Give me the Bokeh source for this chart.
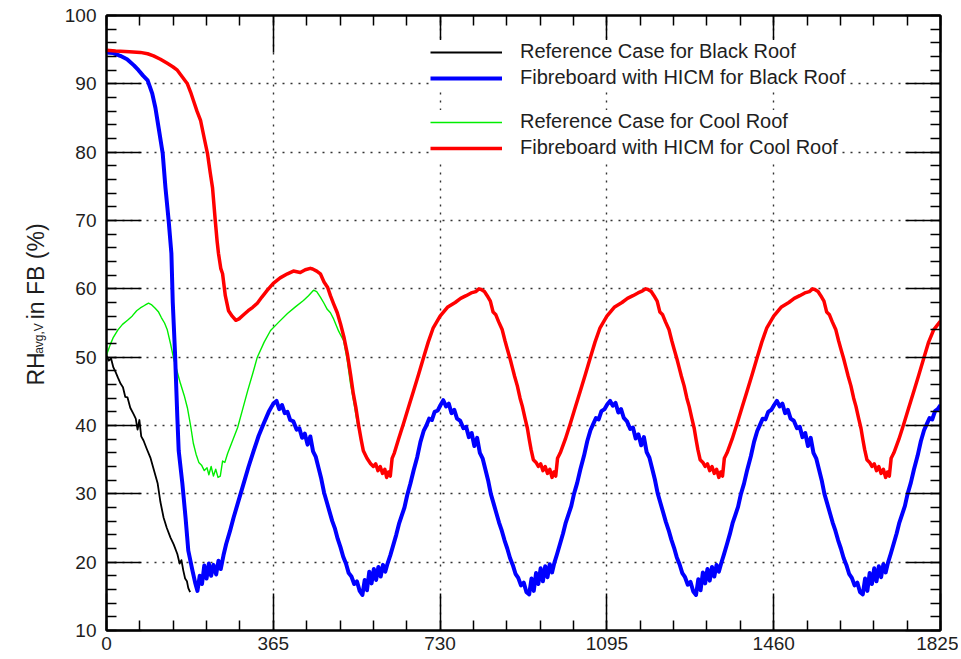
from math import pi
from bokeh.plotting import figure
from bokeh.layouts import row
from bokeh.models import (FixedTicker, LinearAxis, Legend, LegendItem, Range1d)
from bokeh.core.properties import value
from bokeh.embed import file_html
from bokeh.resources import INLINE

# ---------------- data ----------------
x_ticks = [0, 365, 730, 1095, 1460, 1825]
x_minor = [73 * k for k in range(26)]
y_ticks = [10, 20, 30, 40, 50, 60, 70, 80, 90, 100]
y_minor = list(range(10, 101, 2))

black_days = [0, 5, 10, 15, 20, 25, 31, 36, 41, 46, 52, 59, 64, 68, 72, 76, 81,
              88, 96, 104, 112, 118, 125, 132, 140, 147, 155, 160, 164, 168,
              172, 176, 179, 183]
black_vals = [50.2, 49.5, 49.8, 48.5, 47.8, 47.0, 46.1, 45.6, 44.2, 44.1, 42.6,
              41.7, 41.0, 39.4, 40.8, 38.4, 37.8, 36.6, 35.3, 33.4, 31.5, 28.8,
              26.5, 25.0, 23.6, 22.6, 21.2, 19.8, 20.3, 18.8, 17.6, 17.2, 16.2,
              15.6]

green_days = [0, 8, 15, 25, 35, 46, 56, 66, 74, 84, 92, 98, 106, 114, 120, 127,
              133, 140, 147, 155, 162, 170, 177, 184, 190, 196, 202, 208, 214,
              220, 224, 229, 234, 239, 244, 249, 254, 259, 265, 276, 287, 298,
              309, 320, 330, 345, 359, 378, 396, 414, 431, 442, 453, 460, 468,
              475, 483, 490, 497, 508, 519, 527, 534, 541, 549, 555]
green_vals = [50.3, 51.8, 52.9, 54.0, 54.8, 55.4, 56.0, 56.8, 57.2, 57.6, 57.9,
              57.7, 57.2, 56.6, 55.8, 55.0, 54.0, 52.0, 49.8, 47.8, 46.1, 44.4,
              42.6, 40.0, 37.4, 35.8, 34.6, 34.2, 33.4, 33.8, 32.8, 34.0, 32.6,
              33.6, 32.4, 32.6, 34.8, 34.6, 35.9, 37.8, 39.7, 42.4, 45.1, 47.6,
              50.0, 52.2, 53.9, 55.2, 56.4, 57.4, 58.3, 59.0, 59.8, 59.6, 58.8,
              58.0, 57.0, 56.5, 55.6, 53.8, 52.4, 49.5, 46.1, 43.5, 40.3, 38.6]

blue_days_y1 = [0, 15, 30, 45, 60, 70, 80, 90, 100, 107, 114, 123, 129, 136,
                142, 145, 150, 155, 158, 166, 173, 179, 188, 194, 199, 204, 209,
                214, 219, 224, 229, 234, 240, 245, 250, 256, 262, 270, 278, 289,
                300, 311, 322, 333, 344, 355, 365]
blue_vals_y1 = [94.6, 94.5, 94.1, 93.6, 92.7, 92.0, 91.2, 90.5, 88.6, 86.5,
                83.6, 79.8, 74.8, 70.0, 65.2, 58.0, 50.5, 41.2, 36.3, 31.5,
                26.5, 21.7, 18.8, 17.0, 15.8, 18.0, 16.8, 19.5, 17.6, 19.8,
                18.0, 19.6, 18.2, 20.2, 19.0, 21.0, 22.7, 24.5, 26.5, 29.0,
                31.5, 34.0, 36.3, 38.5, 40.3, 42.0, 43.2]
blue_days_y2 = [372, 378, 384, 390, 396, 402, 409, 416, 422, 428, 434, 440, 446,
                452, 458, 464, 470, 476, 482, 488, 494, 500, 506, 512, 518, 524,
                530, 536, 542, 548, 554, 560, 565, 570, 575, 580, 585, 590, 595,
                600, 605, 610, 615, 621, 628, 634, 640, 646, 652, 658, 665, 672,
                680, 687, 694, 700, 706, 712, 718, 725, 731, 737]
blue_vals_y2 = [43.6, 42.4, 43.0, 41.8, 42.0, 40.8, 40.6, 39.4, 39.6, 38.2, 38.8,
                37.2, 38.4, 36.2, 35.4, 33.8, 32.2, 30.2, 28.8, 27.4, 26.0, 24.9,
                23.4, 22.2, 20.8, 19.8, 18.4, 17.9, 16.8, 17.2, 15.8, 15.2, 17.4,
                15.9, 18.6, 16.9, 19.0, 17.4, 19.3, 17.9, 19.6, 18.6, 19.8, 21.0,
                22.6, 24.0, 25.6, 26.8, 28.0, 29.8, 31.5, 33.4, 35.4, 37.6, 39.2,
                40.0, 41.0, 40.8, 42.0, 42.2, 43.0, 43.7]
blue_days_y3 = [743, 749, 755, 761, 767, 774, 781, 787, 793, 799, 805, 811, 817,
                823, 829, 835, 841, 847, 853, 859, 865, 871, 877, 883, 889, 895,
                901, 907, 913, 919, 925, 930, 935, 940, 945, 950, 955, 960, 965,
                970, 975, 980, 986, 993, 999, 1005, 1011, 1017, 1023, 1030, 1037,
                1045, 1052, 1059, 1065, 1071, 1077, 1083, 1090, 1096, 1102]
blue_vals_y3 = [42.8, 43.2, 41.8, 42.3, 41.0, 40.7, 39.6, 39.8, 38.3, 38.9, 37.0,
                38.2, 36.0, 35.2, 33.6, 32.0, 30.0, 28.6, 27.2, 25.8, 24.6, 23.2,
                22.0, 20.6, 19.6, 18.3, 17.7, 16.6, 17.0, 15.6, 15.3, 17.6, 15.8,
                18.4, 16.8, 19.1, 17.2, 19.4, 17.8, 19.7, 18.5, 19.9, 21.2, 22.8,
                24.2, 25.8, 27.0, 28.2, 30.0, 31.6, 33.6, 35.6, 37.7, 39.3, 40.2,
                41.1, 40.9, 42.1, 42.4, 43.1, 43.6]
blue_days_y4 = [1108, 1114, 1120, 1126, 1132, 1139, 1146, 1152, 1158, 1164,
                1170, 1176, 1182, 1188, 1194, 1200, 1206, 1212, 1218, 1224,
                1230, 1236, 1242, 1248, 1254, 1260, 1266, 1272, 1278, 1284,
                1290, 1295, 1300, 1305, 1310, 1315, 1320, 1325, 1330, 1335,
                1340, 1345, 1351, 1358, 1364, 1370, 1376, 1382, 1388, 1395,
                1402, 1410, 1417, 1424, 1430, 1436, 1442, 1448, 1455, 1461, 1467]
blue_vals_y4 = [42.9, 43.3, 41.9, 42.4, 41.1, 40.6, 39.5, 39.7, 38.1, 38.7, 37.1,
                38.3, 36.1, 35.3, 33.7, 32.1, 30.1, 28.7, 27.3, 25.9, 24.7, 23.3,
                22.1, 20.7, 19.7, 18.4, 17.8, 16.7, 17.1, 15.7, 15.2, 17.5, 15.9,
                18.5, 16.9, 19.0, 17.3, 19.3, 17.9, 19.6, 18.6, 19.8, 21.1, 22.7,
                24.1, 25.7, 26.9, 28.1, 29.9, 31.5, 33.5, 35.5, 37.6, 39.2, 40.1,
                41.0, 40.9, 42.0, 42.3, 43.0, 43.6]
blue_days_y5 = [1473, 1479, 1485, 1491, 1497, 1504, 1511, 1517, 1523, 1529,
                1535, 1541, 1547, 1553, 1559, 1565, 1571, 1577, 1583, 1589,
                1595, 1601, 1607, 1613, 1619, 1625, 1631, 1637, 1643, 1649,
                1655, 1660, 1665, 1670, 1675, 1680, 1685, 1690, 1695, 1700,
                1705, 1710, 1716, 1723, 1729, 1735, 1741, 1747, 1753, 1760,
                1767, 1775, 1782, 1789, 1795, 1801, 1807, 1813, 1819, 1825]
blue_vals_y5 = [42.8, 43.2, 41.8, 42.3, 41.0, 40.7, 39.6, 39.8, 38.3, 38.9, 37.0,
                38.2, 36.0, 35.2, 33.6, 32.0, 30.0, 28.6, 27.2, 25.8, 24.6, 23.2,
                22.0, 20.6, 19.6, 18.3, 17.7, 16.6, 17.0, 15.6, 15.3, 17.6, 15.8,
                18.4, 16.8, 19.1, 17.2, 19.4, 17.8, 19.7, 18.5, 19.9, 21.2, 22.8,
                24.2, 25.8, 27.0, 28.2, 30.0, 31.6, 33.6, 35.6, 37.7, 39.3, 40.2,
                41.1, 40.9, 42.1, 42.4, 43.0]

red_days_y1 = [0, 20, 50, 74, 90, 103, 118, 133, 145, 155, 166, 177, 184, 190,
               198, 206, 214, 221, 227, 232, 238, 242, 245, 250, 254, 260, 267,
               275, 283, 290, 300, 310, 320, 330, 340, 352, 365, 380, 396, 409,
               424, 435, 446, 451, 460, 468, 476, 484, 490, 497, 505, 512, 520,
               527, 534, 540, 546, 551, 557, 562, 570, 578, 584, 589, 594, 599,
               604, 609, 613, 617, 621, 625]
red_vals_y1 = [94.9, 94.8, 94.7, 94.6, 94.4, 94.1, 93.6, 93.0, 92.5, 92.0, 91.0,
               90.0, 88.8, 87.6, 86.0, 84.6, 82.0, 79.8, 77.0, 74.8, 70.0, 67.0,
               65.2, 63.0, 62.2, 59.0, 56.8, 56.0, 55.4, 55.6, 56.2, 56.8, 57.3,
               57.9, 58.8, 59.8, 60.8, 61.6, 62.2, 62.6, 62.4, 62.8, 63.0, 62.9,
               62.6, 62.2, 61.0, 60.2, 59.0, 57.8, 56.5, 54.9, 52.8, 50.5, 47.5,
               44.7, 42.5, 40.3, 38.0, 36.3, 35.2, 34.4, 34.0, 34.4, 33.4, 34.0,
               33.0, 33.6, 32.4, 33.2, 32.6, 35.2]
red_days_y2 = [630, 639, 650, 661, 672, 683, 694, 704, 715, 730, 746, 763, 775,
               787, 798, 808, 815, 820, 827, 833, 840, 846, 852, 858, 866, 872,
               877, 883, 888, 893, 899, 905, 910, 916, 921, 925, 929, 934, 940,
               945, 950, 955, 960, 965, 970, 975, 979, 983, 987]
red_vals_y2 = [36.0, 38.0, 40.3, 42.7, 45.1, 47.5, 50.0, 52.2, 54.3, 56.0, 57.3,
               58.0, 58.6, 59.0, 59.4, 59.6, 60.0, 59.9, 59.6, 59.0, 58.2, 56.6,
               56.2, 55.2, 54.0, 52.4, 51.2, 49.8, 48.5, 47.2, 45.8, 44.0, 42.8,
               41.0, 39.6, 38.0, 36.5, 35.0, 34.6, 34.0, 34.4, 33.4, 34.0, 33.0,
               33.6, 32.4, 33.2, 32.6, 35.2]
red_days_y3 = [993, 1004, 1015, 1026, 1037, 1048, 1059, 1069, 1080, 1095, 1111,
               1128, 1140, 1152, 1163, 1173, 1180, 1185, 1192, 1198, 1205, 1211,
               1217, 1223, 1231, 1237, 1242, 1248, 1253, 1258, 1264, 1270, 1275,
               1281, 1286, 1290, 1294, 1299, 1305, 1310, 1315, 1320, 1325, 1330,
               1335, 1340, 1344, 1348, 1352]
red_vals_y3 = [36.0, 38.0, 40.3, 42.7, 45.1, 47.5, 50.0, 52.2, 54.3, 56.0, 57.3,
               58.0, 58.6, 59.0, 59.4, 59.7, 60.0, 59.9, 59.6, 59.0, 58.2, 56.6,
               56.2, 55.2, 54.0, 52.4, 51.2, 49.8, 48.5, 47.2, 45.8, 44.0, 42.8,
               41.0, 39.6, 38.0, 36.5, 35.0, 34.6, 34.0, 34.4, 33.4, 34.0, 33.0,
               33.6, 32.4, 33.2, 32.6, 35.2]
red_days_y4 = [1358, 1369, 1380, 1391, 1402, 1413, 1424, 1434, 1445, 1460,
               1476, 1493, 1505, 1517, 1528, 1538, 1545, 1550, 1557, 1563,
               1570, 1576, 1582, 1588, 1596, 1602, 1607, 1613, 1618, 1623,
               1629, 1635, 1640, 1646, 1651, 1655, 1659, 1664, 1670, 1675,
               1680, 1685, 1690, 1695, 1700, 1705, 1709, 1713, 1717]
red_vals_y4 = [36.0, 38.0, 40.3, 42.7, 45.1, 47.5, 50.0, 52.2, 54.3, 56.0, 57.3,
               58.0, 58.6, 59.0, 59.4, 59.6, 60.0, 59.9, 59.6, 59.0, 58.2, 56.6,
               56.2, 55.2, 54.0, 52.4, 51.2, 49.8, 48.5, 47.2, 45.8, 44.0, 42.8,
               41.0, 39.6, 38.0, 36.5, 35.0, 34.6, 34.0, 34.4, 33.4, 34.0, 33.0,
               33.6, 32.4, 33.2, 32.6, 35.2]
red_days_y5 = [1723, 1734, 1745, 1756, 1767, 1778, 1789, 1799, 1810, 1825]
red_vals_y5 = [36.0, 38.0, 40.3, 42.7, 45.1, 47.5, 50.0, 52.2, 54.0, 55.3]

blue_days = blue_days_y1 + blue_days_y2 + blue_days_y3 + blue_days_y4 + blue_days_y5
blue_vals = blue_vals_y1 + blue_vals_y2 + blue_vals_y3 + blue_vals_y4 + blue_vals_y5
red_days = red_days_y1 + red_days_y2 + red_days_y3 + red_days_y4 + red_days_y5
red_vals = red_vals_y1 + red_vals_y2 + red_vals_y3 + red_vals_y4 + red_vals_y5

labels = ["Reference Case for Black Roof", "Fibreboard with HICM for Black Roof",
          "Reference Case for Cool Roof", "Fibreboard with HICM for Cool Roof"]
ytitle_parts = ["RH", "avg,V", "in FB (%)"]

# ---------------- layout constants ----------------
FONT = "Liberation Sans"
TXT = "#1e1e1e"
H = 658
TW = 60          # width of the strip that carries the rotated y title
MW = 898         # main plot width

# ---------------- main figure ----------------
p = figure(width=MW, height=H, output_backend="svg", toolbar_location=None,
           x_range=Range1d(0, 1825), y_range=Range1d(10, 100),
           x_axis_location=None, y_axis_location=None,
           min_border_left=106 - TW, min_border_right=TW + MW - 940,
           min_border_top=15, min_border_bottom=H - 630)
p.background_fill_color = "white"
p.border_fill_color = "white"
p.outline_line_color = "black"
p.outline_line_width = 2

xt = FixedTicker(ticks=x_ticks, minor_ticks=x_minor)
yt = FixedTicker(ticks=y_ticks, minor_ticks=y_minor)


def style_axis(ax, major_in, show_labels, size="19px", standoff=10):
    ax.axis_line_color = "black"
    ax.axis_line_width = 2
    ax.major_tick_in = major_in
    ax.major_tick_out = 0
    ax.minor_tick_in = 10
    ax.minor_tick_out = 0
    ax.major_tick_line_color = "black"
    ax.major_tick_line_width = 1.5
    ax.minor_tick_line_color = "black"
    ax.minor_tick_line_width = 1.5
    if show_labels:
        ax.major_label_text_font = FONT
        ax.major_label_text_font_size = size
        ax.major_label_text_color = TXT
        ax.major_label_standoff = standoff
    else:
        ax.major_label_overrides = {t: "" for t in (x_ticks + y_ticks)}
        ax.major_label_standoff = 0


bottom = LinearAxis(ticker=xt)
style_axis(bottom, 37, True, size="19px", standoff=6)
top = LinearAxis(ticker=xt)
style_axis(top, 37, False)
left = LinearAxis(ticker=yt)
style_axis(left, 35, True, size="19px", standoff=10)
right = LinearAxis(ticker=yt)
style_axis(right, 35, False)
p.add_layout(bottom, "below")
p.add_layout(top, "above")
p.add_layout(left, "left")
p.add_layout(right, "right")

p.xgrid.ticker = xt
p.ygrid.ticker = yt
for g in (p.xgrid, p.ygrid):
    g.grid_line_color = "#333333"
    g.grid_line_dash = "2 6"
    g.grid_line_width = 1.4

r_black = p.line(black_days, black_vals, color="black", line_width=1.8,
                 line_join="round")
r_green = p.line(green_days, green_vals, color="#00ee00", line_width=1.4,
                 line_join="round")
r_blue = p.line(blue_days, blue_vals, color="#0000ff", line_width=4,
                line_join="round")
r_red = p.line(red_days, red_vals, color="#ff0000", line_width=3.5,
               line_join="round")


def make_legend(items, loc):
    lg = Legend(items=items, location=loc)
    lg.label_text_font = FONT
    lg.label_text_font_size = "20px"
    lg.label_text_color = TXT
    lg.glyph_width = 72
    lg.glyph_height = 20
    lg.label_height = 20
    lg.label_standoff = 18
    lg.spacing = 3
    lg.padding = 0
    lg.margin = 0
    lg.border_line_color = None
    lg.background_fill_color = "white"
    lg.background_fill_alpha = 1
    return lg


leg1 = make_legend([LegendItem(label=labels[0], renderers=[r_black]),
                    LegendItem(label=labels[1], renderers=[r_blue])], (324, 541))
leg2 = make_legend([LegendItem(label=labels[2], renderers=[r_green]),
                    LegendItem(label=labels[3], renderers=[r_red])], (324, 471))
p.add_layout(leg1)
p.add_layout(leg2)

# ---------------- strip with the rotated y-axis title ----------------
t = figure(width=TW, height=H, output_backend="svg", toolbar_location=None,
           x_range=Range1d(0, TW), y_range=Range1d(0, H),
           x_axis_location=None, y_axis_location=None,
           min_border=0, min_border_left=0, min_border_right=0,
           min_border_top=0, min_border_bottom=0)
t.outline_line_color = None
t.xgrid.visible = False
t.ygrid.visible = False
t.background_fill_color = "white"
t.border_fill_color = "white"
t.text(x=[35], y=[H - 396], text=[ytitle_parts[0]], angle=pi / 2,
       text_font=value(FONT), text_font_size="23px", text_color=TXT,
       text_align="left", text_baseline="alphabetic")
t.text(x=[38.5], y=[H - 362], text=[ytitle_parts[1]], angle=pi / 2,
       text_font=value(FONT), text_font_size="12px", text_color=TXT,
       text_align="left", text_baseline="alphabetic")
t.text(x=[35], y=[H - 325], text=[ytitle_parts[2]], angle=pi / 2,
       text_font=value(FONT), text_font_size="23px", text_color=TXT,
       text_align="left", text_baseline="alphabetic")

layout = row(t, p)
open("out.html", "w").write(file_html(layout, INLINE))
